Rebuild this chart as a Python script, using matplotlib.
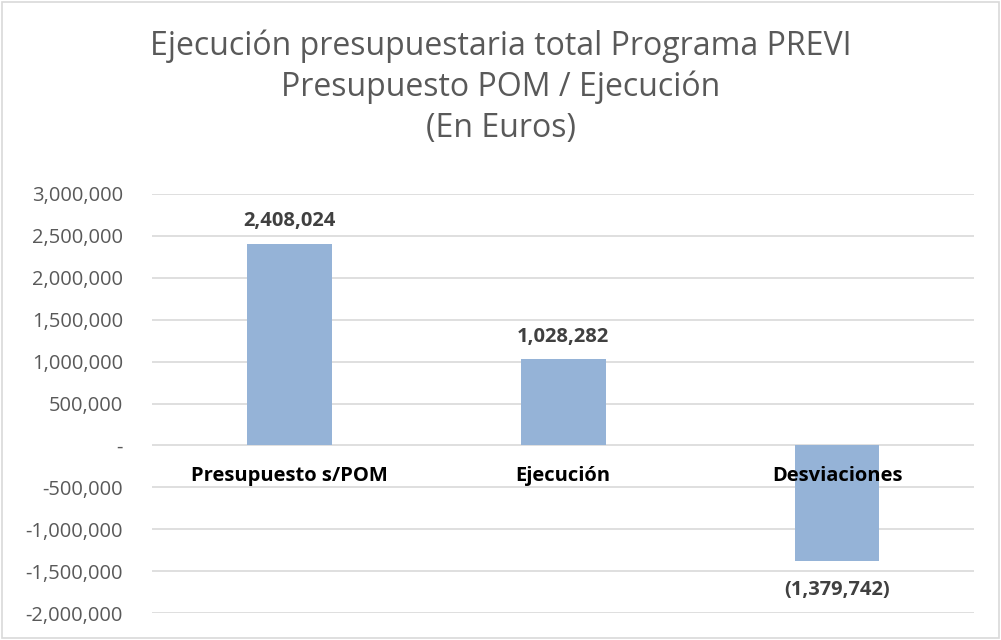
import matplotlib.pyplot as plt
from matplotlib.patches import Rectangle
from matplotlib.ticker import FuncFormatter

categories = ["Presupuesto s/POM", "Ejecución", "Desviaciones"]
values = [2408024, 1028282, -1379742]
yticks = [-2000000, -1500000, -1000000, -500000, 0, 500000, 1000000,
          1500000, 2000000, 2500000, 3000000]

title = "Ejecución presupuestaria total Programa PREVI\nPresupuesto POM / Ejecución\n(En Euros)"

plt.rcParams['font.family'] = ['Open Sans', 'DejaVu Sans']


def tick_fmt(v, pos):
    if v == 0:
        return "-"
    return f"{v:,.0f}"


def label_fmt(v):
    if v < 0:
        return f"({abs(v):,.0f})"
    return f"{v:,.0f}"


fig = plt.figure(figsize=(10.01, 6.40), dpi=100)
ax = fig.add_axes([0.152, 0.042, 0.821, 0.655])

x = list(range(len(categories)))
ax.bar(x, values, width=0.31, color="#95b3d7", zorder=2)

ax.set_xlim(-0.5, len(categories) - 0.5)
ax.set_ylim(yticks[0], yticks[-1])
ax.set_yticks(yticks)
ax.yaxis.set_major_formatter(FuncFormatter(tick_fmt))
ax.tick_params(axis='y', length=0, labelsize=14.5, labelcolor="#595959", pad=21)
ax.set_xticks([])
ax.grid(axis='y', color="#d9d9d9", linewidth=1.2, zorder=0)
for s in ax.spines.values():
    s.set_visible(False)

for xi, cat in zip(x, categories):
    ax.annotate(cat, (xi, 0), xytext=(0, -22), textcoords='offset points',
                ha='center', va='center', fontsize=14.5, fontweight='bold',
                color="black", zorder=3)

for xi, v in zip(x, values):
    off = 16 if v >= 0 else -21
    ax.annotate(label_fmt(v), (xi, v), xytext=(0, off), textcoords='offset points',
                ha='center', va='center', fontsize=14.5, fontweight='bold',
                color="#404040", zorder=3)

fig.text(0.5, 0.864, title, ha='center', va='center', fontsize=23,
         color="#595959", linespacing=1.3)

fig.patches.append(Rectangle((0.002, 0.003), 0.996, 0.994, transform=fig.transFigure,
                             fill=False, edgecolor="#d9d9d9", linewidth=1.2))

fig.savefig("out.png", dpi=100)
